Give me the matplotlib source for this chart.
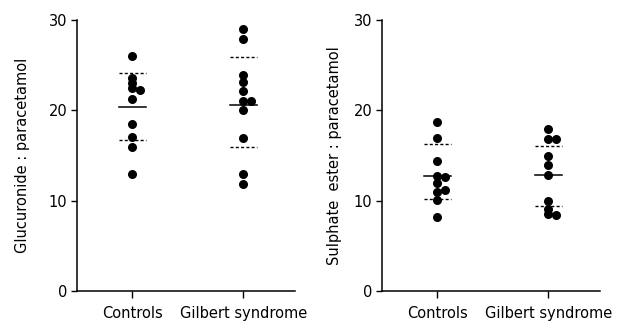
import matplotlib.pyplot as plt

# values
groups = ['Controls', 'Gilbert syndrome']

gluc_controls = [26.0, 23.6, 23.0, 22.5, 22.3, 21.2, 18.5, 17.1, 15.9, 13.0]
gluc_controls_col = [0, 0, 0, 0, 1, 0, 0, 0, 0, 0]
gluc_gilbert = [29.0, 27.9, 23.9, 23.1, 22.1, 21.0, 21.0, 20.0, 16.9, 13.0, 11.9]
gluc_gilbert_col = [0, 0, 0, 0, 0, 0, 1, 0, 0, 0, 0]

sulph_controls = [18.7, 16.95, 14.35, 12.7, 12.6, 12.0, 11.0, 11.2, 10.1, 8.2]
sulph_controls_col = [0, 0, 0, 0, 1, 0, 0, 1, 0, 0]
sulph_gilbert = [17.9, 16.8, 16.8, 14.9, 13.9, 12.8, 10.0, 9.1, 8.5, 8.4]
sulph_gilbert_col = [0, 0, 1, 0, 0, 0, 0, 0, 0, 1]

# mean and mean +/- SD lines
gluc_mean = [20.4, 20.6]
gluc_upper = [24.1, 25.9]
gluc_lower = [16.7, 15.9]
sulph_mean = [12.75, 12.8]
sulph_upper = [16.3, 16.0]
sulph_lower = [10.2, 9.45]

plt.rcParams['font.family'] = 'DejaVu Sans'
plt.rcParams['font.size'] = 10.5

fig = plt.figure(figsize=(6.17, 3.24), dpi=100)
ax1 = fig.add_axes([77 / 617, 33 / 324, 218 / 617, 271 / 324])
ax2 = fig.add_axes([382 / 617, 33 / 324, 218 / 617, 271 / 324])

positions = [1, 3]
half = 0.24
shift = 0.14


def panel(ax, sets, cols, means, uppers, lowers, ylabel, pad):
    for pos, vals, col in zip(positions, sets, cols):
        xs = [pos + c * shift for c in col]
        ax.scatter(xs, vals, s=30, color='black', zorder=3, clip_on=False)
    for pos, m, u, l in zip(positions, means, uppers, lowers):
        ax.plot([pos - half, pos + half], [m, m], color='black', lw=1.1)
        ax.plot([pos - half, pos + half], [u, u], color='black', lw=1.0,
                linestyle=(0, (2.2, 1.6)))
        ax.plot([pos - half, pos + half], [l, l], color='black', lw=1.0,
                linestyle=(0, (2.2, 1.6)))
    ax.set_xlim(0, 3.93)
    ax.set_ylim(0, 30)
    ax.set_yticks([0, 10, 20, 30])
    ax.set_xticks(positions)
    ax.set_xticklabels(groups)
    ax.spines['top'].set_visible(False)
    ax.spines['right'].set_visible(False)
    ax.spines['left'].set_linewidth(1.1)
    ax.spines['bottom'].set_linewidth(1.1)
    ax.tick_params(axis='y', length=4, width=1, pad=3)
    ax.tick_params(axis='x', length=5, width=1, pad=6)
    ax.set_ylabel(ylabel, labelpad=pad)


panel(ax1, [gluc_controls, gluc_gilbert], [gluc_controls_col, gluc_gilbert_col],
      gluc_mean, gluc_upper, gluc_lower, 'Glucuronide : paracetamol', 13)
panel(ax2, [sulph_controls, sulph_gilbert], [sulph_controls_col, sulph_gilbert_col],
      sulph_mean, sulph_upper, sulph_lower, 'Sulphate  ester : paracetamol', 8)

fig.savefig('out.png', dpi=100)
